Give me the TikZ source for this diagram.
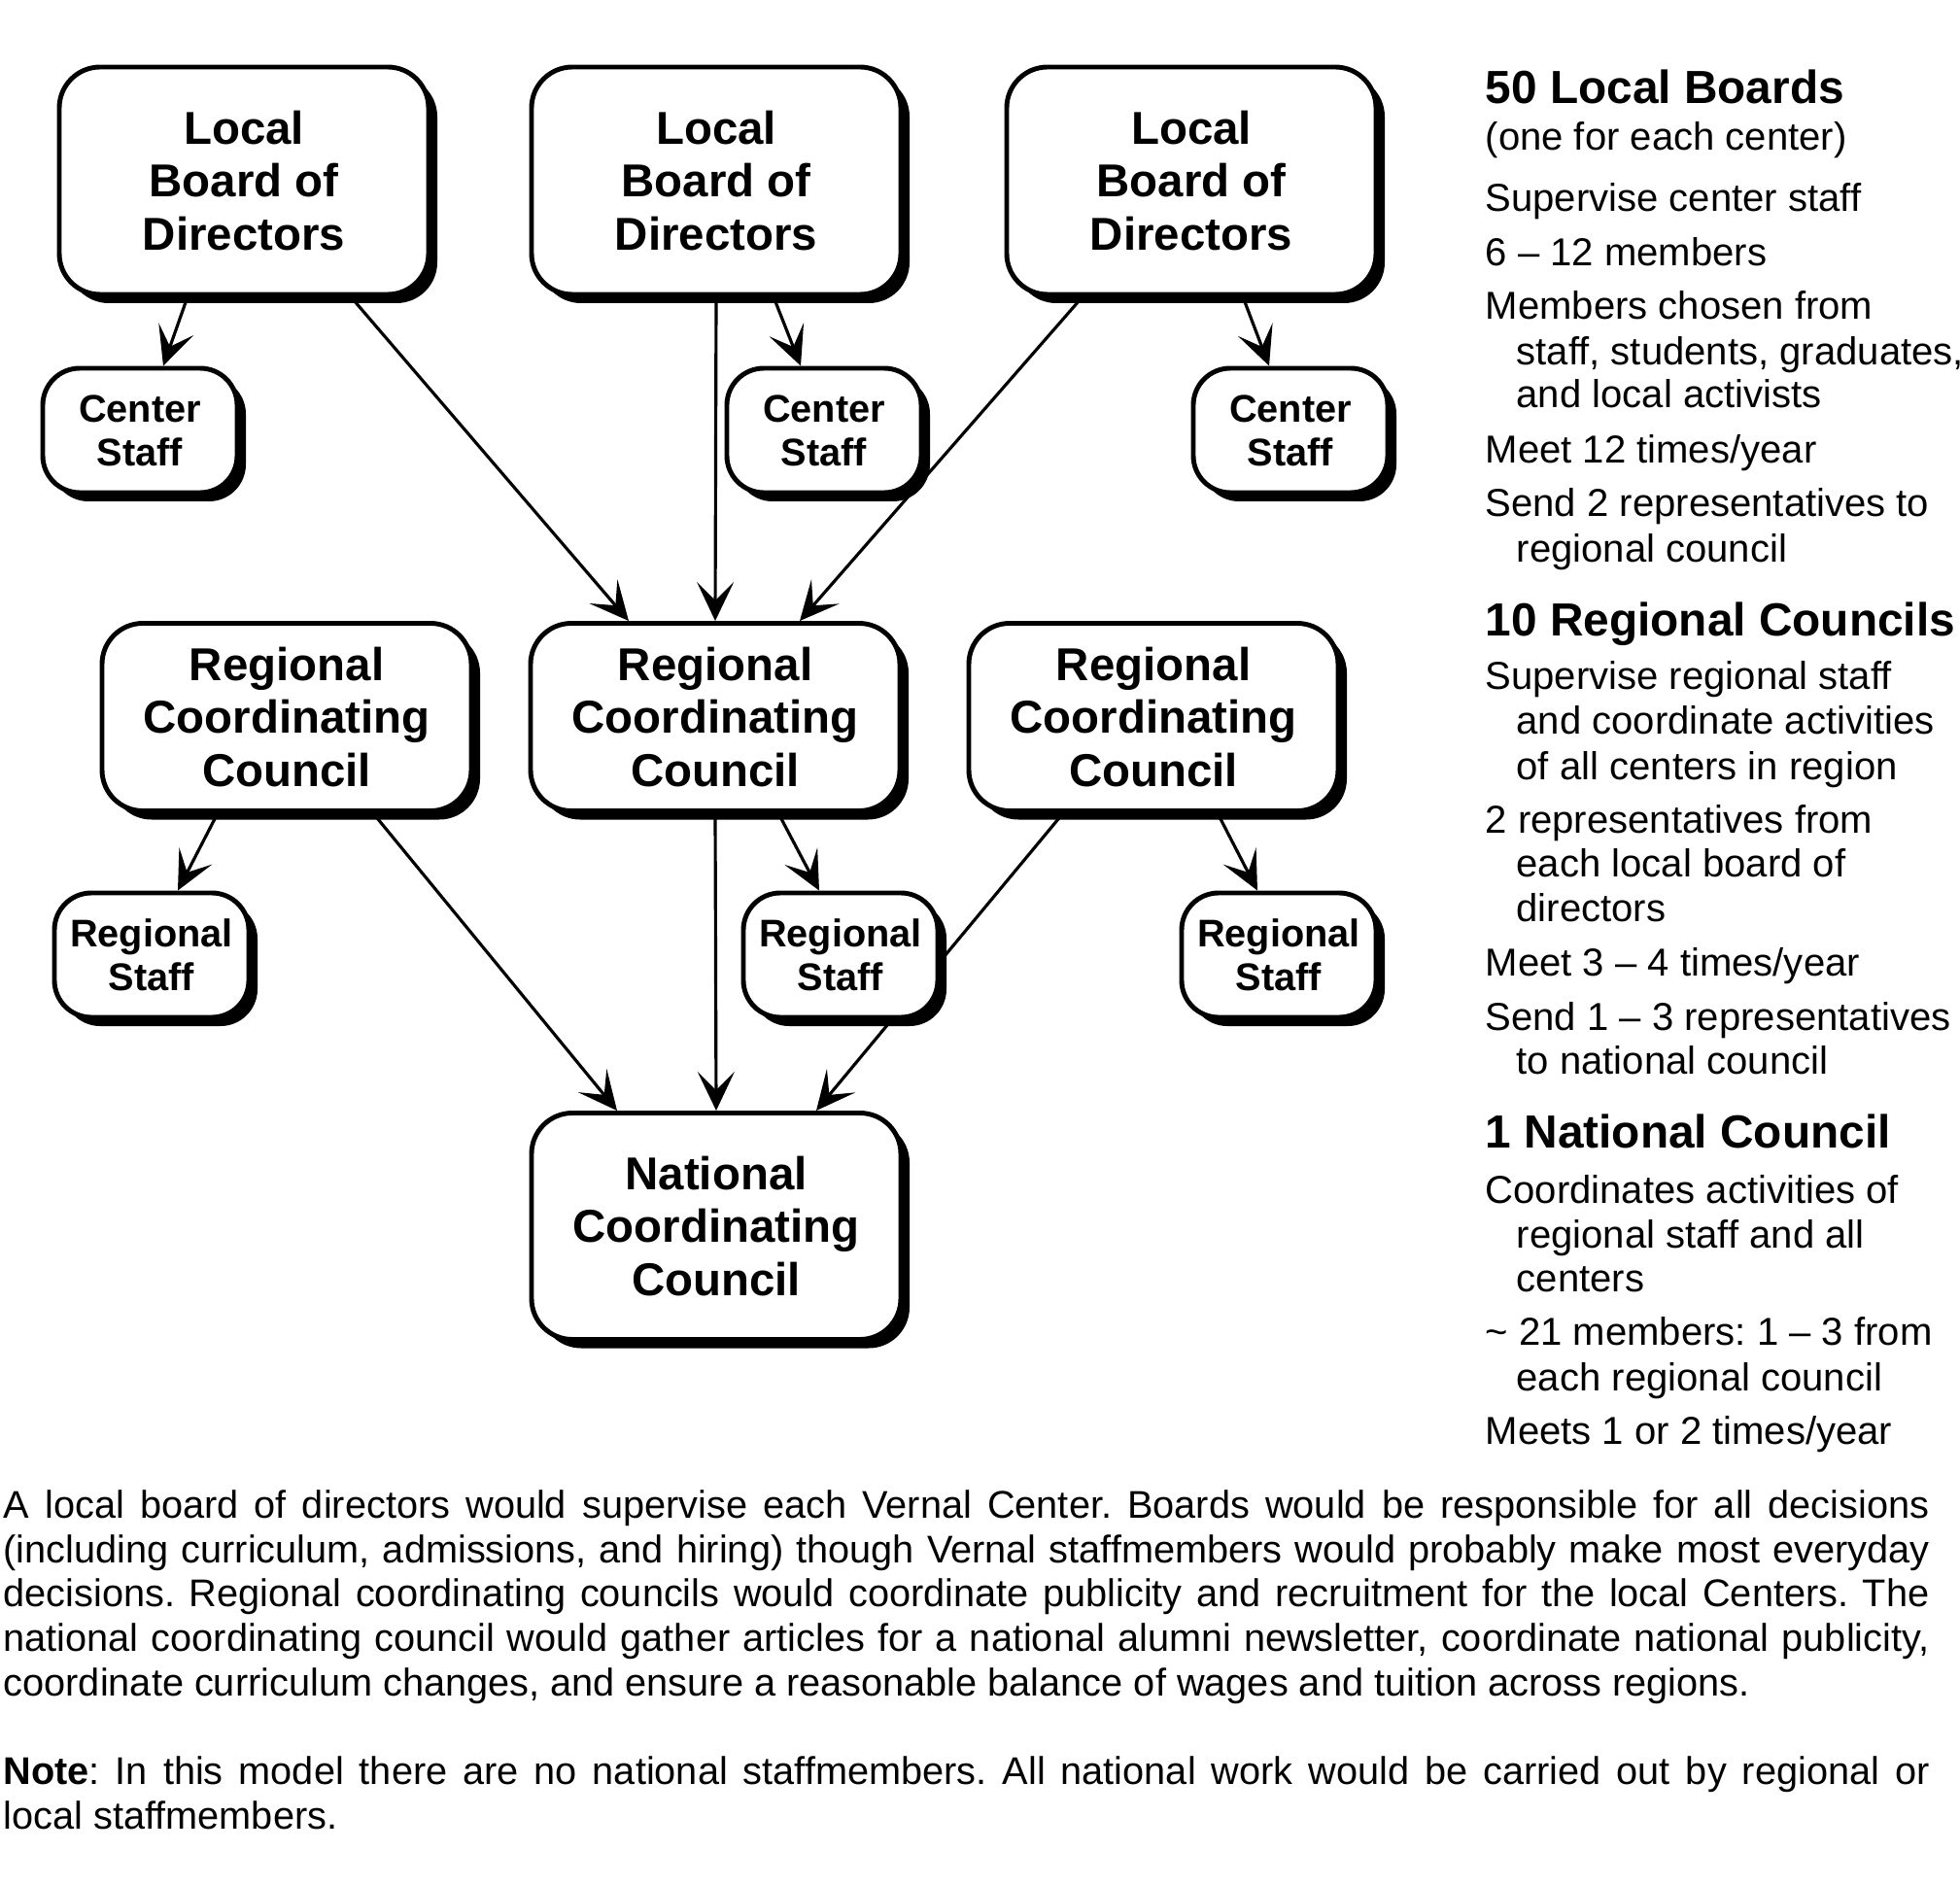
\documentclass[tikz,border=0pt]{standalone}
\usepackage{fontspec}
\setmainfont{Liberation Sans}
\usetikzlibrary{arrows.meta,shadows,backgrounds}
\frenchspacing

\begin{document}
\begin{tikzpicture}[
        board/.style={draw, line width=1.4pt, rounded corners=0.42cm, fill=white, align=center, inner sep=0pt,
          minimum width=3.8cm, minimum height=2.34cm, font=\fontsize{13.5}{15.6}\selectfont\bfseries,
          drop shadow={shadow xshift=0.09cm, shadow yshift=-0.09cm, fill=black, opacity=1}},
        council/.style={board, minimum height=1.93cm},
        staff/.style={board, minimum width=2.0cm, minimum height=1.28cm, rounded corners=0.38cm,
          font=\fontsize{11.3}{12.8}\selectfont\bfseries},
        link/.style={-{Stealth[length=0.40cm, width=0.38cm, inset=0.19cm]}, line width=0.9pt},
        head/.style={anchor=base west, inner sep=0pt, font=\fontsize{13.6}{15}\selectfont\bfseries},
        note/.style={anchor=base west, inner sep=0pt, font=\fontsize{11.4}{13}\selectfont},
        para/.style={anchor=north west, inner sep=0pt, text width=19.82cm, align=justify, font=\fontsize{11.3}{13}\selectfont}
      ]
        \useasboundingbox (0,0) rectangle (20.17,-19.40);
        \foreach \i/\x in {1/2.51,2/7.37,3/12.26} {\node[board] (lb\i) at (\x,-1.86) {Local\\Board of\\Directors};}
        \foreach \i/\x in {1/1.44,2/8.48,3/13.28} {\node[staff] (cs\i) at (\x,-4.43) {Center\\Staff};}
        \foreach \i/\x in {1/2.95,2/7.36,3/11.87} {\node[council] (rc\i) at (\x,-7.38) {Regional\\Coordinating\\Council};}
        \foreach \i/\x in {1/1.56,2/8.65,3/13.16} {\node[staff] (rs\i) at (\x,-9.83) {Regional\\Staff};}
        \node[board, minimum height=2.33cm] (nc) at (7.37,-12.62) {National\\Coordinating\\Council};
        \begin{scope}[on background layer]
          \draw[link] ([xshift=-0.58cm]lb1.south) -- ([xshift=0.24cm]cs1.north);
          \draw[link] ([xshift=1.10cm]lb1.south) -- ([xshift=-0.89cm]rc2.north);
          \draw[link] (lb2.south) -- (rc2.north);
          \draw[link] ([xshift=0.59cm]lb2.south) -- ([xshift=-0.24cm]cs2.north);
          \draw[link] ([xshift=-1.12cm]lb3.south) -- ([xshift=0.87cm]rc2.north);
          \draw[link] ([xshift=0.53cm]lb3.south) -- ([xshift=-0.22cm]cs3.north);
          \draw[link] ([xshift=-0.71cm]rc1.south) -- ([xshift=0.27cm]rs1.north);
          \draw[link] ([xshift=0.89cm]rc1.south) -- ([xshift=-1.02cm]nc.north);
          \draw[link] (rc2.south) -- (nc.north);
          \draw[link] ([xshift=0.65cm]rc2.south) -- ([xshift=-0.22cm]rs2.north);
          \draw[link] ([xshift=-0.93cm]rc3.south) -- ([xshift=1.03cm]nc.north);
          \draw[link] ([xshift=0.66cm]rc3.south) -- ([xshift=-0.22cm]rs3.north);
        \end{scope}
        \node[head] (h1) at (15.28,-1.07) {50 Local Boards};
        \node[head] (h2) at (15.28,-6.54) {10 Regional Councils};
        \node[head] (h3) at (15.28,-11.81) {1 National Council};
        \foreach \yy/\xx/\txt [count=\n] in {
            1.55/15.28/{(one for each center)},
            2.18/15.28/{Supervise center staff},
            2.735/15.28/{6 – 12 members},
            3.285/15.28/{Members chosen from},
            3.75/15.60/{staff, students, graduates,},
            4.20/15.60/{and local activists},
            4.765/15.28/{Meet 12 times/year},
            5.315/15.28/{Send 2 representatives to},
            5.785/15.60/{regional council},
            7.095/15.28/{Supervise regional staff},
            7.555/15.60/{and coordinate activities},
            8.02/15.60/{of all centers in region},
            8.575/15.28/{2 representatives from},
            9.025/15.60/{each local board of},
            9.485/15.60/{directors},
            10.04/15.28/{Meet 3 – 4 times/year},
            10.605/15.28/{Send 1 – 3 representatives},
            11.055/15.60/{to national council},
            12.385/15.28/{Coordinates activities of},
            12.845/15.60/{regional staff and all},
            13.295/15.60/{centers},
            13.845/15.28/{\textasciitilde{} 21 members: 1 – 3 from},
            14.315/15.60/{each regional council},
            14.865/15.28/{Meets 1 or 2 times/year}}
          {\node[note] (line\n) at (\xx,-\yy) {\txt};}
        \node[para] (story) at (0.03,-15.33) {A local board of directors would supervise each Vernal Center. Boards would be responsible for all decisions\linebreak (including curriculum, admissions, and hiring) though Vernal staffmembers would probably make most everyday\linebreak decisions. Regional coordinating councils would coordinate publicity and recruitment for the local Centers. The\linebreak national coordinating council would gather articles for a national alumni newsletter, coordinate national publicity,\linebreak coordinate curriculum changes, and ensure a reasonable balance of wages and tuition across regions.\\[13pt]
          \textbf{Note}: In this model there are no national staffmembers. All national work would be carried out by regional or\linebreak local staffmembers.};
      \end{tikzpicture}
\end{document}
